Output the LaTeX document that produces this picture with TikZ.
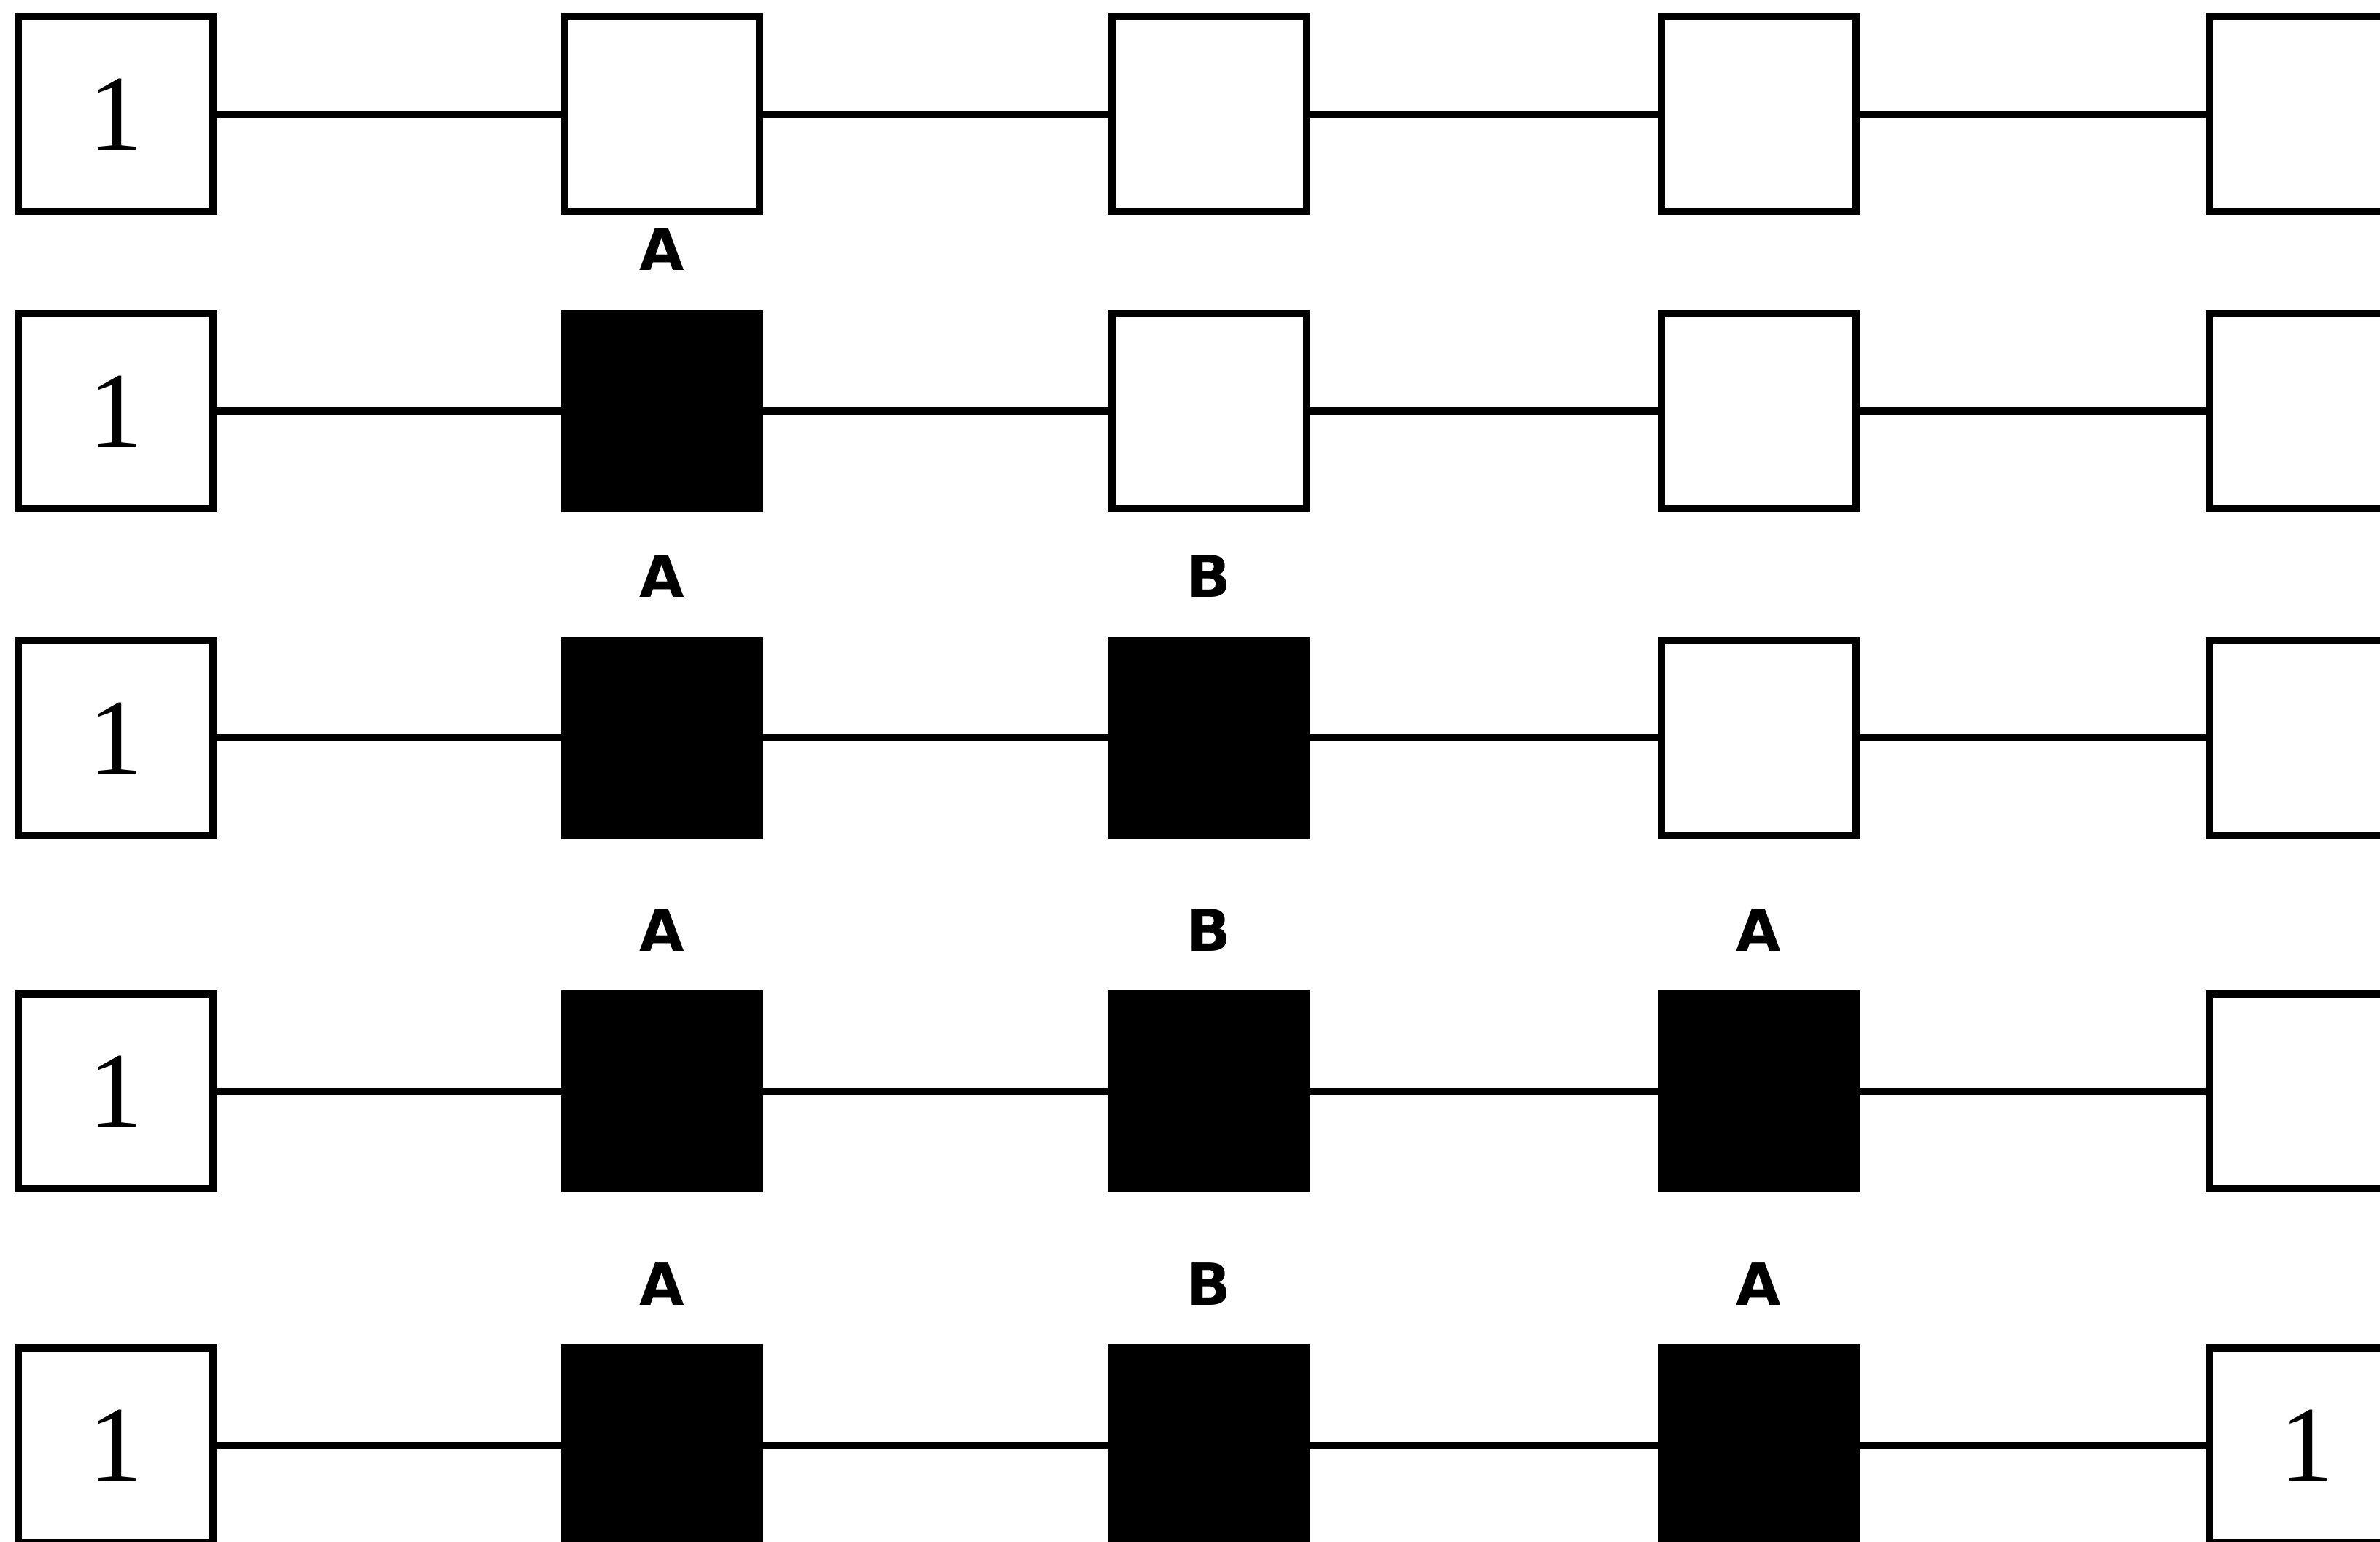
\documentclass[tikz,border=0pt]{standalone}
\usepackage{fontspec}
\newfontfamily\numfont{Liberation Serif}
\newfontfamily\labfont{DejaVu Sans}
\begin{document}
\begin{tikzpicture}[
  cell/.style={draw=black, line width=0.1cm, minimum size=2.67cm, inner sep=0pt, fill=white},
  full/.style={cell, fill=black},
  one/.style={cell, font=\numfont\fontsize{42}{48}\selectfont},
  link/.style={line width=0.1cm},
  lab/.style={anchor=base, inner sep=0pt, font=\labfont\bfseries\fontsize{22.6}{26}\selectfont}
]
\clip (0,0) rectangle (32.62,-21.12);
\useasboundingbox (0,0) rectangle (32.62,-21.12);

% row 1
\node[one]  (r1c1) at (1.58,-1.565) {1};
\node[cell] (r1c2) at (9.07,-1.565) {};
\node[cell] (r1c3) at (16.57,-1.565) {};
\node[cell] (r1c4) at (24.10,-1.565) {};
\node[cell] (r1c5) at (31.61,-1.565) {};

% row 2
\node[one]  (r2c1) at (1.58,-5.633) {1};
\node[full] (r2c2) at (9.07,-5.633) {};
\node[cell] (r2c3) at (16.57,-5.633) {};
\node[cell] (r2c4) at (24.10,-5.633) {};
\node[cell] (r2c5) at (31.61,-5.633) {};

% row 3
\node[one]  (r3c1) at (1.58,-10.114) {1};
\node[full] (r3c2) at (9.07,-10.114) {};
\node[full] (r3c3) at (16.57,-10.114) {};
\node[cell] (r3c4) at (24.10,-10.114) {};
\node[cell] (r3c5) at (31.61,-10.114) {};

% row 4
\node[one]  (r4c1) at (1.58,-14.955) {1};
\node[full] (r4c2) at (9.07,-14.955) {};
\node[full] (r4c3) at (16.57,-14.955) {};
\node[full] (r4c4) at (24.10,-14.955) {};
\node[cell] (r4c5) at (31.61,-14.955) {};

% row 5
\node[one]  (r5c1) at (1.58,-19.805) {1};
\node[full] (r5c2) at (9.07,-19.805) {};
\node[full] (r5c3) at (16.57,-19.805) {};
\node[full] (r5c4) at (24.10,-19.805) {};
\node[one]  (r5c5) at (31.61,-19.805) {1};

% connectors
\foreach \r in {1,...,5}{
  \draw[link] (r\r c1) -- (r\r c2);
  \draw[link] (r\r c2) -- (r\r c3);
  \draw[link] (r\r c3) -- (r\r c4);
  \draw[link] (r\r c4) -- (r\r c5);
}

% labels
\node[lab] (l22) at ([yshift=0.54cm]r2c2.north) {A};
\node[lab] (l32) at ([yshift=0.54cm]r3c2.north) {A};
\node[lab] (l33) at ([yshift=0.54cm]r3c3.north) {B};
\node[lab] (l42) at ([yshift=0.54cm]r4c2.north) {A};
\node[lab] (l43) at ([yshift=0.54cm]r4c3.north) {B};
\node[lab] (l44) at ([yshift=0.54cm]r4c4.north) {A};
\node[lab] (l52) at ([yshift=0.54cm]r5c2.north) {A};
\node[lab] (l53) at ([yshift=0.54cm]r5c3.north) {B};
\node[lab] (l54) at ([yshift=0.54cm]r5c4.north) {A};
\end{tikzpicture}
\end{document}
